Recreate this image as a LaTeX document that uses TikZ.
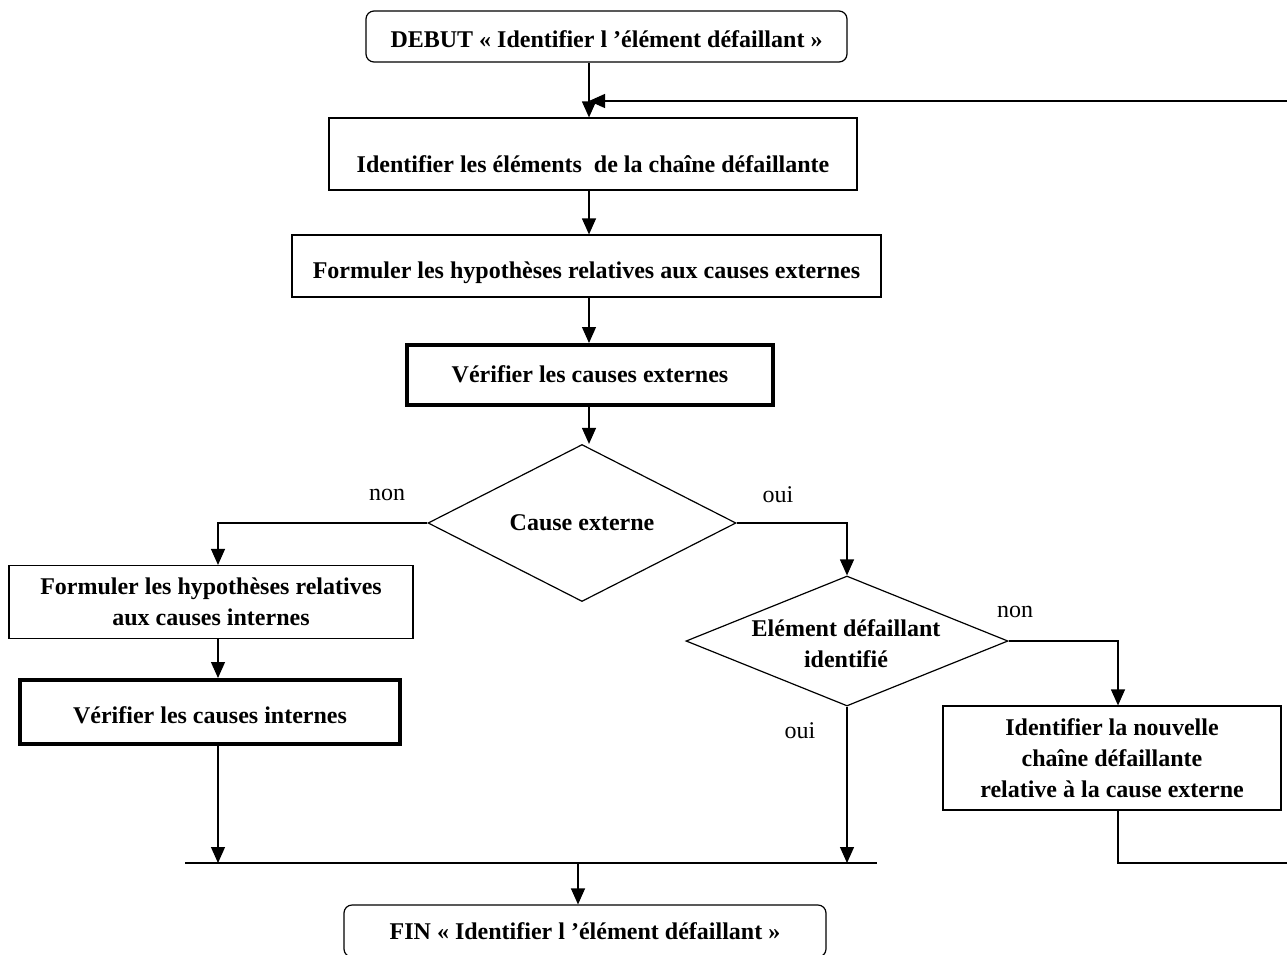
\documentclass[tikz,border=0pt]{standalone}
\usepackage{fontspec}
\setmainfont{Liberation Serif}
\usetikzlibrary{arrows.meta,shapes.geometric}
% single-line box text: baseline lowered by #1 below the box centre
\newcommand\boxline[2]{\raisebox{-#1}[0pt][0pt]{#2}}
\begin{document}
\begin{tikzpicture}[x=1pt,y=-1pt,
  font=\fontsize{24}{31}\selectfont\bfseries,
  line width=1.2pt,
  box/.style={draw,rectangle,align=center,inner sep=0pt},
  thickbox/.style={box,line width=4pt},
  endbox/.style={box,rounded corners=8pt},
  decision/.style={draw,diamond,inner sep=0pt},
  dtext/.style={align=center,inner sep=0pt},
  lbl/.style={font=\fontsize{24}{28}\selectfont\mdseries},
  arr/.style={-{Triangle[length=16pt,width=14pt]}}]
\useasboundingbox (0,0) rectangle (1287,954);

% main column and branch columns
\coordinate (spine) at (589,0);
\coordinate (lcol) at (218,0);
\coordinate (rcol) at (1118,0);

% process boxes
\node[endbox,minimum width=481pt,minimum height=51pt] (debut) at (606.5,36.5)
  {\boxline{10.5pt}{DEBUT «~Identifier l ’élément défaillant~»}};
\node[box,minimum width=528pt,minimum height=72pt] (chaine) at (593,154)
  {\boxline{18pt}{Identifier les éléments\ \ de la chaîne défaillante}};
\node[box,minimum width=589pt,minimum height=62pt] (hypext) at (586.5,266)
  {\boxline{12pt}{Formuler les hypothèses relatives aux causes externes}};
\node[thickbox,minimum width=366pt,minimum height=60pt] (verext) at (590,375)
  {\boxline{7pt}{Vérifier les causes externes}};

% decisions (outline and text)
\node[decision,minimum width=308pt,minimum height=157pt] (causeext) at (582,523) {};
\node[dtext] (causeext-t) at (causeext) {Cause externe};
\node[decision,minimum width=322pt,minimum height=130pt] (identifie) at (847,641) {};
\node[dtext] (identifie-t) at (846,644) {Elément défaillant\\identifié};

% left branch
\node[box,minimum width=404pt,minimum height=73pt] (hypint) at (211,602)
  {Formuler les hypothèses relatives\\aux causes internes};
\node[thickbox,minimum width=380pt,minimum height=64pt] (verint) at (210,712)
  {\boxline{11pt}{Vérifier les causes internes}};

% right branch
\node[box,minimum width=338pt,minimum height=104pt] (nouvelle) at (1112,758)
  {Identifier la nouvelle\\chaîne défaillante\\relative à la cause externe};

% end box
\node[endbox,minimum width=482pt,minimum height=52pt] (fin) at (585,931)
  {\boxline{8pt}{FIN «~Identifier l ’élément défaillant~»}};

% branch labels
\node[lbl] (non1) at (387,495) {non};
\node[lbl] (oui1) at (778,495) {oui};
\node[lbl] (non2) at (1015,612) {non};
\node[lbl] (oui2) at (800,731) {oui};

% junction line and loop-back corners
\coordinate (jl) at (185,863);
\coordinate (jr) at (877,863);
\coordinate (jfin) at (578,863);
\coordinate (loopa) at (1289,863);
\coordinate (loopb) at (1289,101);
\coordinate (entry) at (589,101);

% connectors along the main column
\draw[arr] (debut.south -| spine) -- (chaine.north -| spine);
\draw[arr] (chaine.south -| spine) -- (hypext.north -| spine);
\draw[arr] (hypext.south -| spine) -- (verext.north -| spine);
\draw[arr] (verext.south -| spine) -- (causeext.north -| spine);

% decision branches
\draw[arr] (causeext.west) -| (hypint.north -| lcol);
\draw[arr] (causeext.east) -| (identifie.north);
\draw[arr] (identifie.east) -| (nouvelle.north -| rcol);
\draw[arr] (hypint.south -| lcol) -- (verint.north -| lcol);

% merge into the end box
\draw (jl) -- (jr);
\draw[arr] (verint.south -| lcol) -- (jl -| lcol);
\draw[arr] (identifie.south) -- (jr -| identifie.south);
\draw[arr] (jfin) -- (fin.north -| jfin);

% loop back to the chain identification
\draw[arr] (nouvelle.south -| rcol) |- (loopa) -- (loopb) -- (entry);
\end{tikzpicture}
\end{document}
